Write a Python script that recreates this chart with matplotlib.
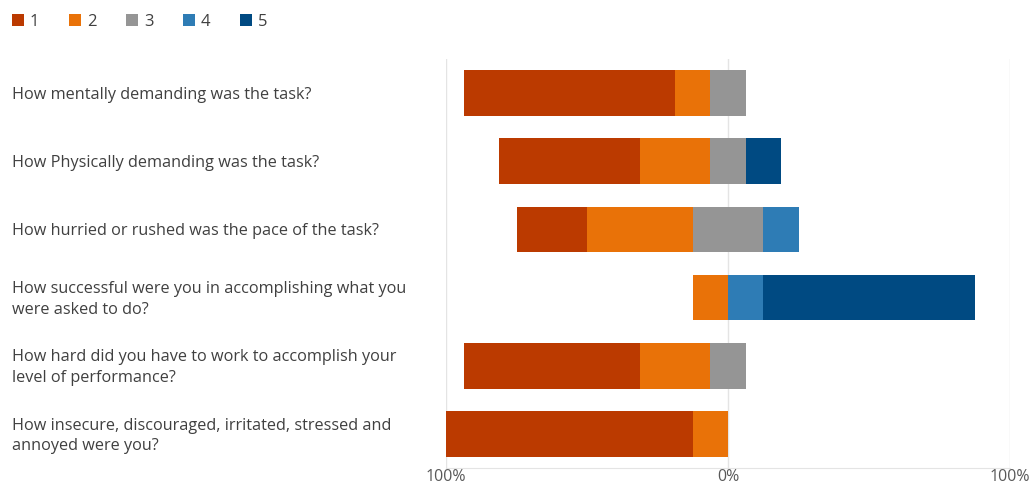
import numpy as np
import matplotlib.pyplot as plt
import matplotlib.transforms as mtransforms
from matplotlib.patches import Patch

questions = [
    "How mentally demanding was the task?",
    "How Physically demanding was the task?",
    "How hurried or rushed was the pace of the task?",
    "How successful were you in accomplishing what you\nwere asked to do?",
    "How hard did you have to work to accomplish your\nlevel of performance?",
    "How insecure, discouraged, irritated, stressed and\nannoyed were you?",
]
levels = ["1", "2", "3", "4", "5"]
colors = ["#BB3A00", "#E97208", "#959595", "#2E7CB5", "#004A82"]

# percent of answers per level (rows = questions)
pct_1 = [75.0, 50.0, 25.0, 0.0, 62.5, 87.5]
pct_2 = [12.5, 25.0, 37.5, 12.5, 25.0, 12.5]
pct_3 = [12.5, 12.5, 25.0, 0.0, 12.5, 0.0]
pct_4 = [0.0, 0.0, 12.5, 12.5, 0.0, 0.0]
pct_5 = [0.0, 12.5, 0.0, 75.0, 0.0, 0.0]

plt.rcParams['font.family'] = ['Open Sans', 'DejaVu Sans']

fig = plt.figure(figsize=(10.36, 4.87), dpi=100)
ax = fig.add_axes([446 / 1036, 19 / 487, 564 / 1036, 409 / 487])

data = np.array([pct_1, pct_2, pct_3, pct_4, pct_5])
y = np.arange(len(questions))
h = 0.67

# neutral is split around zero
ax.barh(y, data[2], left=-data[2] / 2, height=h, color=colors[2], linewidth=0)

# disagree side grows to the left
left = -data[2] / 2
for idx in [1, 0]:
    left = left - data[idx]
    ax.barh(y, data[idx], left=left, height=h, color=colors[idx], linewidth=0)

# agree side grows to the right
left = data[2] / 2
for idx in [3, 4]:
    ax.barh(y, data[idx], left=left, height=h, color=colors[idx], linewidth=0)
    left = left + data[idx]

ax.set_xlim(-100, 100)
ax.set_ylim(len(questions) - 0.5, -0.5)
ax.set_xticks([-100, 0, 100])
ax.set_xticklabels(["100%", "0%", "100%"])
ax.tick_params(axis='x', length=0, labelsize=11.5, colors="#595959", pad=1)
ax.set_yticks([])
ax.grid(axis='x', color="#E4E4E4", linewidth=1)
ax.set_axisbelow(True)
for s in ["top", "right", "left"]:
    ax.spines[s].set_visible(False)
ax.spines["bottom"].set_color("#E4E4E4")

trans = mtransforms.blended_transform_factory(fig.transFigure, ax.transData)
for yi, q in zip(y, questions):
    ax.text(12 / 1036, yi + 0.03, q, transform=trans, ha='left', va='center',
            fontsize=11.7, color="#404040", linespacing=1.4)

handles = [Patch(facecolor=c, edgecolor='none') for c in colors]
fig.legend(handles, levels, loc='upper left', bbox_to_anchor=(0.0, 0.995), ncol=5,
           frameon=False, fontsize=12, labelcolor="#404040",
           handlelength=0.75, handleheight=0.75, handletextpad=0.35, columnspacing=1.75,
           borderaxespad=0.3)

fig.savefig("out.png", dpi=100)
